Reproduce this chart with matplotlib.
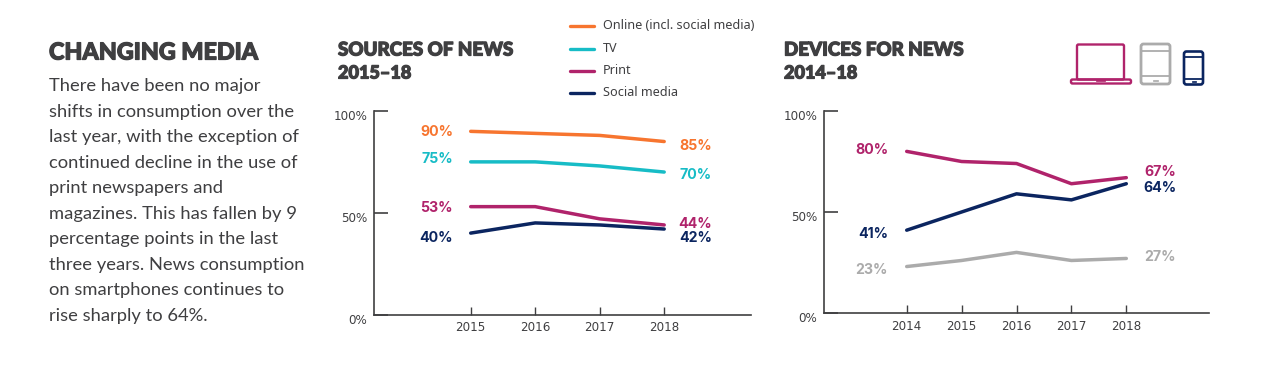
import matplotlib
matplotlib.use("Agg")
import matplotlib.pyplot as plt
import matplotlib.patheffects as pe
from matplotlib.patches import FancyBboxPatch, Rectangle
from matplotlib.lines import Line2D
from matplotlib.transforms import ScaledTranslation

W, H = 1270, 391
ORANGE, TEAL, MAGENTA, NAVY, GREY = "#F7752F", "#17BCC6", "#B0236B", "#0B2560", "#ABABAB"
DARK = "#3F3F41"

sources_years = [2015, 2016, 2017, 2018]
online = [90, 89, 88, 85]
tv = [75, 75, 73, 70]
print_news = [53, 53, 47, 44]
social = [40, 45, 44, 42]

device_years = [2014, 2015, 2016, 2017, 2018]
laptop = [80, 75, 74, 64, 67]
tablet = [23, 26, 30, 26, 27]
smartphone = [41, 50, 59, 56, 64]

legend_labels = ["Online (incl. social media)", "TV", "Print", "Social media"]
y_ticks = [0, 50, 100]

body_lines = [
    "There have been no major", "shifts in consumption over the",
    "last year, with the exception of", "continued decline in the use of",
    "print newspapers and", "magazines. This has fallen by 9",
    "percentage points in the last", "three years. News consumption",
    "on smartphones continues to", "rise sharply to 64%.",
]

fig = plt.figure(figsize=(W / 100, H / 100), dpi=100, facecolor="white")
bg = fig.add_axes([0, 0, 1, 1])
bg.set_xlim(0, W); bg.set_ylim(H, 0); bg.axis("off")


def make_axes(x0, x1, y_top, y_bot, x_first, x_step, years):
    ax = fig.add_axes([x0 / W, 1 - y_bot / H, (x1 - x0) / W, (y_bot - y_top) / H])
    ax.patch.set_alpha(0)
    ax.set_xlim(years[0] + (x0 - x_first) / x_step, years[0] + (x1 - x_first) / x_step)
    ax.set_ylim(0, 100)
    for s in ("top", "right"):
        ax.spines[s].set_visible(False)
    for s in ("left", "bottom"):
        ax.spines[s].set_linewidth(1.2)
        ax.spines[s].set_color(DARK)
    ax.set_xticks(years)
    ax.set_xticklabels([str(y) for y in years], fontsize=8.6, color=DARK, family="DejaVu Sans")
    ax.set_yticks(y_ticks)
    ax.set_yticklabels([f"{v}%" for v in y_ticks], fontsize=8.6, color=DARK, family="DejaVu Sans")
    ax.tick_params(axis="x", direction="in", length=6, width=1, color=DARK, pad=5)
    ax.tick_params(axis="y", direction="in", length=10, width=1.2, color=DARK, pad=5)
    up = ScaledTranslation(0, 1 / 100, fig.dpi_scale_trans)
    for lab in ax.get_yticklabels():
        lab.set_verticalalignment("top")
        lab.set_transform(lab.get_transform() + up)
    return ax


def label(x, y, s, c):
    bg.text(x, y + 1, s, color=c, fontsize=10.2, fontweight="bold", family="Inter",
            ha="right", va="center")


def series(ax, xs, ys, c):
    ax.plot(xs, ys, color=c, lw=2.5, solid_capstyle="round", solid_joinstyle="round",
            clip_on=False)


heavy = [pe.withStroke(linewidth=0.9, foreground=DARK)]

# left text column
bg.text(49, 53, "CHANGING MEDIA", fontsize=16.8, fontweight="black", family="Lato",
        color=DARK, va="center", ha="left", path_effects=heavy)
for i, line in enumerate(body_lines):
    bg.text(49, 86.5 + i * 25.45, line, fontsize=13.2, family="Lato", color=DARK,
            va="center", ha="left")

# headings
for x, a, b in [(338, "SOURCES OF NEWS", "2015–18"), (784, "DEVICES FOR NEWS", "2014–18")]:
    bg.text(x, 50, a, fontsize=13.5, fontweight="black", family="Lato", color=DARK,
            va="center", path_effects=heavy)
    bg.text(x, 73, b, fontsize=13, fontweight="black", family="Lato", color=DARK,
            va="center", path_effects=heavy)

# left chart
ax1 = make_axes(374, 751, 111, 314.5, 470.7, 64.5, sources_years)
for ys, c in [(online, ORANGE), (tv, TEAL), (print_news, MAGENTA), (social, NAVY)]:
    series(ax1, sources_years, ys, c)

for (x, y, s, c) in [
    (453, 131, f"{online[0]}%", ORANGE), (453, 158, f"{tv[0]}%", TEAL),
    (453, 207, f"{print_news[0]}%", MAGENTA), (453, 237, f"{social[0]}%", NAVY),
    (712, 145, f"{online[-1]}%", ORANGE), (712, 174, f"{tv[-1]}%", TEAL),
    (712, 223, f"{print_news[-1]}%", MAGENTA), (712, 237, f"{social[-1]}%", NAVY),
]:
    label(x, y, s, c)

# legend
for y, lab, c in zip([26, 49, 71, 93], legend_labels, [ORANGE, TEAL, MAGENTA, NAVY]):
    bg.add_line(Line2D([570, 594], [y, y], color=c, lw=2.4, solid_capstyle="round"))
    bg.text(603, y - 0.5, lab, fontsize=9.1, family="Noto Sans", color=DARK, va="center")

# right chart
ax2 = make_axes(824, 1209, 111, 313, 906.7, 54.9, device_years)
for ys, c in [(laptop, MAGENTA), (tablet, GREY), (smartphone, NAVY)]:
    series(ax2, device_years, ys, c)
for (x, y, s, c) in [
    (888, 149, f"{laptop[0]}%", MAGENTA), (888, 233, f"{smartphone[0]}%", NAVY),
    (888, 269, f"{tablet[0]}%", GREY), (1176, 171, f"{laptop[-1]}%", MAGENTA),
    (1176, 187, f"{smartphone[-1]}%", NAVY), (1176, 256, f"{tablet[-1]}%", GREY),
]:
    label(x, y, s, c)


def rrect(x, y, w, h, c, lw=1.5, r=1.5):
    bg.add_patch(FancyBboxPatch((x, y), w, h, boxstyle=f"round,pad=0,rounding_size={r}",
                                fc="none", ec=c, lw=lw))


# device icons
rrect(1077, 44.5, 47, 35, MAGENTA, lw=1.7)
rrect(1071, 79.5, 60, 4, MAGENTA, lw=1.7)
bg.add_patch(Rectangle((1096, 79.5), 9, 1, fc=MAGENTA, ec=MAGENTA, lw=0.5))

rrect(1141, 44, 29, 40, GREY, lw=2.0, r=2.5)
bg.add_line(Line2D([1141, 1170], [51, 51], color=GREY, lw=1.3))
bg.add_line(Line2D([1141, 1170], [76, 76], color=GREY, lw=1.3))
bg.add_patch(Rectangle((1153, 79.5), 5, 1, fc=GREY, ec=GREY, lw=0.5))

rrect(1184, 51.5, 19, 33, NAVY, lw=1.9, r=2.5)
bg.add_line(Line2D([1184, 1203], [57, 57], color=NAVY, lw=1.3))
bg.add_line(Line2D([1184, 1203], [78.5, 78.5], color=NAVY, lw=1.3))
bg.add_patch(Rectangle((1192, 80.5), 3.5, 1, fc=NAVY, ec=NAVY, lw=0.5))

fig.savefig("out.png", dpi=100, facecolor="white")
